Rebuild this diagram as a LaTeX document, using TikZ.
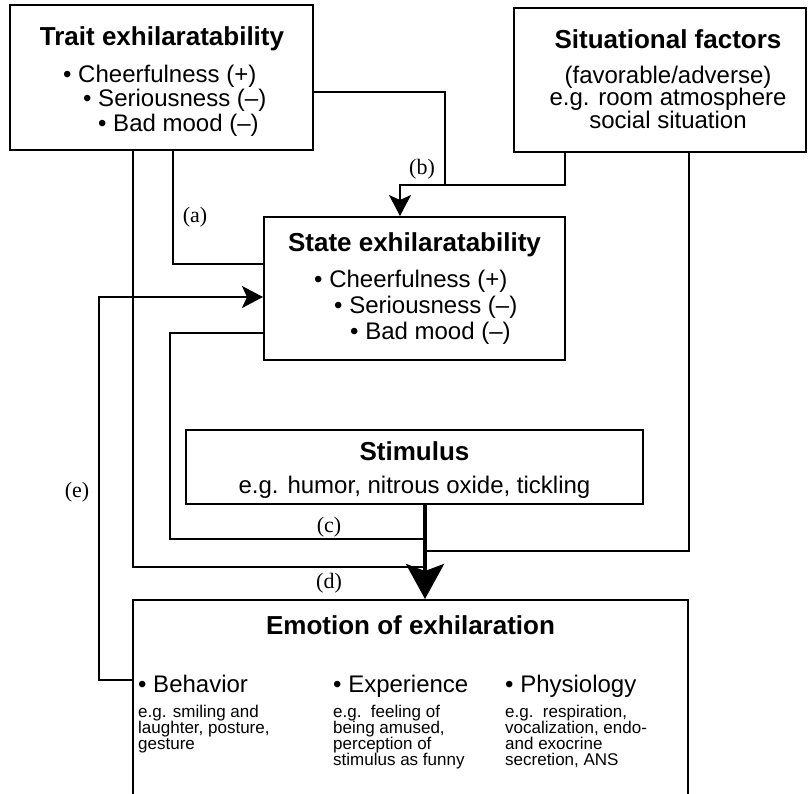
\documentclass[tikz,border=0pt]{standalone}
\usepackage{fontspec}
\setmainfont{Liberation Sans}
\newfontfamily\lblfont{Liberation Serif}
\usetikzlibrary{arrows.meta}
\begin{document}
\begin{tikzpicture}[x=1pt,y=-1pt,
  box/.style={draw, line width=2pt, rectangle, inner sep=0pt},
  conn/.style={line width=1.8pt},
  ttl/.style={font=\fontsize{26}{28}\selectfont\bfseries, inner sep=0pt, anchor=base},
  body/.style={font=\fontsize{24}{26}\selectfont, inner sep=0pt},
  small/.style={font=\fontsize{17}{16}\selectfont, align=left, inner sep=0pt, anchor=north west},
  lbl/.style={font=\lblfont\fontsize{22}{24}\selectfont, inner sep=0pt},
  arr/.style={-{Stealth[length=21pt,width=22pt,inset=5pt]}},
  bigarr/.style={line width=4pt, -{Stealth[length=35pt,width=38pt,inset=7pt]}},
]
\path[use as bounding box, fill=white] (0,0) rectangle (809,793);

% boxes
\node[box, minimum width=303pt, minimum height=145pt] (trait) at (161.5,77.5) {};
\node[box, minimum width=292pt, minimum height=144pt] (sit) at (660,80) {};
\node[box, minimum width=301pt, minimum height=143pt] (state) at (414.5,288.5) {};
\node[box, minimum width=457pt, minimum height=74pt] (stim) at (414.5,467) {};
\node[box, minimum width=555pt, minimum height=210pt] (emo) at (410.5,705) {};

% trait text
\node[ttl] (ttrait) at (162,45) {Trait exhilaratability};
\node[body, anchor=base west] (tr1) at (63,82) {• Cheerfulness (+)};
\node[body, anchor=base west] (tr2) at (83,106) {• Seriousness (–)};
\node[body, anchor=base west] (tr3) at (98,131) {• Bad mood (–)};

% situational text
\node[ttl] (tsit) at (668,48) {Situational factors};
\node[body, anchor=base] (s1) at (668,83) {(favorable/adverse)};
\node[body, anchor=base] (s2) at (668,105.5) {e.g. room atmosphere};
\node[body, anchor=base] (s3) at (668,128) {social situation};

% state text
\node[ttl] (tstate) at (414.5,251) {State exhilaratability};
\node[body, anchor=base west] (st1) at (314,287) {• Cheerfulness (+)};
\node[body, anchor=base west] (st2) at (334,313) {• Seriousness (–)};
\node[body, anchor=base west] (st3) at (350,339) {• Bad mood (–)};

% stimulus text
\node[ttl] (tstim) at (414.5,460) {Stimulus};
\node[body, anchor=base] (stx) at (414.5,493) {e.g. humor, nitrous oxide, tickling};

% emotion text
\node[ttl] (temo) at (410.5,634) {Emotion of exhilaration};
\node[body, anchor=base west] (h1) at (138,692) {• Behavior};
\node[body, anchor=base west] (h2) at (333,692) {• Experience};
\node[body, anchor=base west] (h3) at (505,692) {• Physiology};
\node[small] (d1) at (138,705) {e.g. smiling and\\laughter, posture,\\gesture};
\node[small] (d2) at (333,705) {e.g.\ \ feeling of\\being amused,\\perception of\\stimulus as funny};
\node[small] (d3) at (505,705) {e.g.\ \ respiration,\\vocalization, endo-\\and exocrine\\secretion, ANS};

% helper coordinates
\coordinate (xd) at (133,0);
\coordinate (xa) at (173,0);
\coordinate (xc) at (170,0);
\coordinate (xe) at (99,0);
\coordinate (xb) at (445,0);
\coordinate (xbs) at (400,0);
\coordinate (xs) at (565,0);
\coordinate (xr) at (689,0);
\coordinate (xm) at (425,0);
\coordinate (ya) at (0,264);
\coordinate (yb) at (0,92);
\coordinate (ybj) at (0,185);
\coordinate (ye) at (0,297);
\coordinate (yc1) at (0,333);
\coordinate (yc2) at (0,539);
\coordinate (yr) at (0,551);
\coordinate (yd) at (0,567);
\coordinate (yeb) at (0,680);

% connectors
\draw[conn] (trait.south -| xa) |- (state.west |- ya);
\draw[conn] (trait.east |- yb) -| (xb |- ybj);
\draw[conn, arr] (sit.south -| xs) |- (xbs |- ybj) -- (state.north -| xbs);
\draw[conn] (state.west |- yc1) -| (xc |- yc2) -- (xm |- yc2);
\draw[conn] (trait.south -| xd) |- (xm |- yd);
\draw[conn] (sit.south -| xr) |- (xm |- yr);
\draw[bigarr] (stim.south -| xm) -- (emo.north -| xm);
\draw[conn, arr] (emo.west |- yeb) -| (xe |- ye) -- (state.west |- ye);

% labels
\node[lbl] (la) at (195,217) {(a)};
\node[lbl] (lb) at (422,169) {(b)};
\node[lbl] (lc) at (329,527) {(c)};
\node[lbl] (ld) at (329,583) {(d)};
\node[lbl] (le) at (77,492) {(e)};
\end{tikzpicture}
\end{document}
